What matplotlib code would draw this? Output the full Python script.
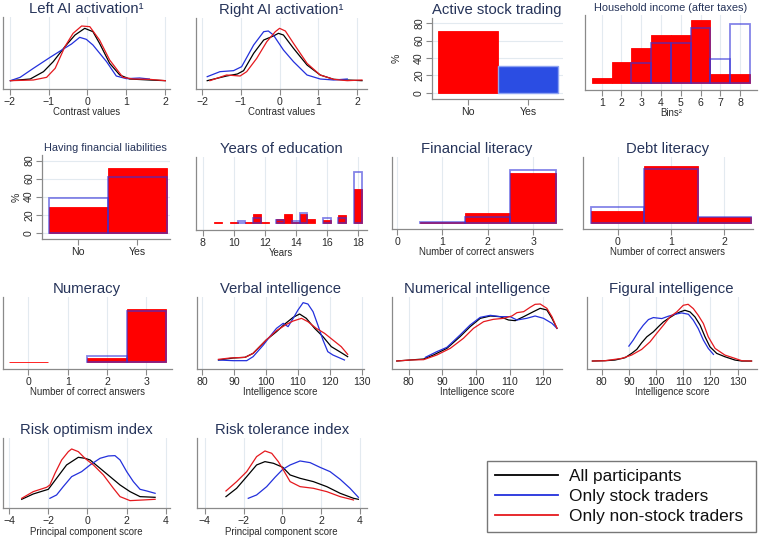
import matplotlib
matplotlib.use('Agg')
import matplotlib.pyplot as plt
from matplotlib.lines import Line2D

plt.rcParams['font.family'] = ['Liberation Sans', 'DejaVu Sans']

# ---------------- data ----------------
# Left AI activation (kernel densities; y in arbitrary density units)
lai_x_all = [-1.98, -1.47, -1.13, -0.88, -0.58, -0.32, -0.07, 0.14, 0.31, 0.57, 0.83, 1.08, 1.59, 2.0]
lai_y_all = [0.25, 0.30, 0.52, 0.82, 1.27, 1.62, 1.82, 1.72, 1.37, 0.77, 0.42, 0.30, 0.27, 0.25]
lai_x_non = [-1.98, -1.39, -1.05, -0.83, -0.58, -0.37, -0.15, 0.06, 0.31, 0.57, 0.91, 1.17, 1.59, 2.0]
lai_y_non = [0.25, 0.27, 0.35, 0.62, 1.27, 1.67, 1.89, 1.87, 1.47, 0.87, 0.35, 0.30, 0.29, 0.25]
lai_x_trd = [-1.98, -1.73, -1.39, -0.96, -0.66, -0.41, -0.2, -0.03, 0.14, 0.49, 0.74, 1.0, 1.34, 1.59]
lai_y_trd = [0.25, 0.35, 0.62, 0.95, 1.17, 1.35, 1.55, 1.49, 1.32, 0.82, 0.39, 0.31, 0.33, 0.30]

# Right AI activation
rai_x_all = [-1.87, -1.37, -1.09, -0.93, -0.67, -0.41, -0.16, -0.03, 0.10, 0.36, 0.71, 1.05, 1.40, 1.75, 2.13]
rai_y_all = [0.25, 0.39, 0.45, 0.55, 1.07, 1.47, 1.59, 1.67, 1.62, 1.22, 0.72, 0.42, 0.29, 0.27, 0.25]
rai_x_non = [-1.80, -1.37, -1.02, -0.85, -0.59, -0.33, -0.11, 0.0, 0.15, 0.36, 0.71, 1.05, 1.40, 1.75, 2.13]
rai_y_non = [0.25, 0.42, 0.39, 0.52, 0.92, 1.42, 1.72, 1.82, 1.74, 1.37, 0.77, 0.42, 0.29, 0.25, 0.27]
rai_x_trd = [-1.87, -1.54, -1.19, -0.98, -0.67, -0.41, -0.29, -0.16, 0.10, 0.36, 0.71, 1.05, 1.40, 1.75]
rai_y_trd = [0.37, 0.52, 0.55, 0.67, 1.32, 1.72, 1.74, 1.62, 1.17, 0.82, 0.42, 0.30, 0.27, 0.30]

# Active stock trading (%)
ast_cats = ['No', 'Yes']
ast_pct = [71, 31]

# Household income (after taxes), % per bin
inc_bins = [1, 2, 3, 4, 5, 6, 7, 8]
inc_non = [1.8, 9.0, 14.6, 20.3, 20.3, 26.6, 3.7, 3.7]
inc_trd = [0, 0, 8.2, 16.7, 16.7, 23.1, 10.2, 25.0]

# Having financial liabilities (%)
fin_cats = ['No', 'Yes']
fin_non = [28, 72]
fin_trd = [38, 62]

# Years of education (%; bins of half a year)
edu_bins = [9, 10, 10.5, 11, 11.5, 12, 13, 13.5, 14, 14.5, 15, 16, 17, 18]
edu_non = [0.8, 0.8, 0, 0.8, 10.6, 0.8, 5.1, 10.6, 0.8, 10.6, 4.2, 3.4, 9.7, 41.5]
edu_trd = [0, 0, 2.4, 0, 5.3, 0, 3.3, 0, 2.4, 12.7, 0, 5.3, 5.3, 63.3]

# Financial literacy (%)
flit_bins = [1, 2, 3]
flit_non = [0.5, 16, 83.5]
flit_trd = [1.5, 10, 88.5]

# Debt literacy (%)
dlit_bins = [0, 1, 2]
dlit_non = [15.7, 76.2, 8.1]
dlit_trd = [21.3, 71.6, 7.1]

# Numeracy (%)
num_bins = [0, 1, 2, 3]
num_non = [0.5, 0, 7.5, 92.0]
num_trd = [0, 0, 11.5, 88.5]

# Verbal intelligence
vi_x_all = [85.2, 89.8, 93.5, 96.0, 100.1, 103.3, 105.9, 108.5, 110.5, 112.6, 115.2, 117.8, 120.4, 123.0, 125.5]
vi_y_all = [0.27, 0.33, 0.35, 0.47, 0.87, 1.12, 1.35, 1.55, 1.65, 1.52, 1.22, 0.97, 0.67, 0.52, 0.37]
vi_x_non = [85.2, 88.8, 93.5, 96.0, 100.1, 103.3, 106.4, 108.5, 111.1, 113.1, 115.7, 118.3, 120.9, 123.5, 125.5]
vi_y_non = [0.29, 0.33, 0.35, 0.47, 0.87, 1.15, 1.34, 1.44, 1.52, 1.42, 1.22, 1.07, 0.87, 0.67, 0.44]
vi_x_trd = [85.2, 89.8, 94.0, 96.0, 99.2, 101.2, 103.3, 105.4, 106.9, 108.5, 110.0, 111.6, 113.1, 114.7, 116.2, 117.8, 119.3, 120.9, 124.5]
vi_y_trd = [0.27, 0.25, 0.25, 0.37, 0.72, 0.97, 1.22, 1.37, 1.27, 1.52, 1.77, 1.99, 1.95, 1.72, 1.32, 0.87, 0.52, 0.42, 0.27]

# Numerical intelligence
ni_x_all = [76.5, 80.5, 84.5, 87.4, 91.4, 95.3, 98.3, 101.3, 104.3, 107.2, 109.7, 111.7, 114.2, 117.1, 119.1, 121.1, 122.6, 124.1]
ni_y_all = [0.24, 0.27, 0.30, 0.42, 0.62, 0.97, 1.27, 1.52, 1.59, 1.57, 1.47, 1.45, 1.57, 1.72, 1.82, 1.77, 1.52, 1.22]
ni_x_non = [76.5, 80.5, 84.5, 88.4, 92.4, 96.3, 99.3, 102.3, 105.2, 108.2, 110.7, 112.2, 114.2, 116.1, 117.6, 119.1, 121.1, 122.6, 124.1]
ni_y_non = [0.24, 0.27, 0.28, 0.42, 0.62, 0.92, 1.22, 1.42, 1.49, 1.52, 1.59, 1.69, 1.72, 1.85, 1.94, 1.95, 1.82, 1.57, 1.22]
ni_x_trd = [85.0, 88.4, 91.4, 95.3, 98.3, 101.3, 104.3, 107.2, 110.2, 112.2, 115.1, 117.6, 120.1, 122.6, 124.1]
ni_y_trd = [0.35, 0.52, 0.65, 1.02, 1.32, 1.55, 1.61, 1.57, 1.57, 1.47, 1.52, 1.59, 1.52, 1.37, 1.22]

# Figural intelligence
fi_x_all = [76.6, 81.2, 84.9, 88.6, 91.0, 92.9, 94.7, 96.6, 99.0, 100.8, 102.7, 104.5, 107.0, 108.8, 110.6, 112.5, 114.3, 116.2, 118.0, 119.8, 122.3, 125.3, 129.0, 131.5, 135.1]
fi_y_all = [0.24, 0.25, 0.27, 0.34, 0.47, 0.59, 0.79, 0.97, 1.12, 1.27, 1.42, 1.52, 1.65, 1.72, 1.77, 1.72, 1.57, 1.32, 0.97, 0.67, 0.47, 0.37, 0.27, 0.24, 0.24]
fi_x_non = [76.6, 81.2, 87.4, 91.0, 94.7, 97.8, 100.2, 102.7, 105.1, 107.6, 110.0, 111.8, 113.7, 115.5, 117.4, 119.2, 121.7, 125.3, 129.0, 131.5, 135.1]
fi_y_non = [0.24, 0.25, 0.32, 0.42, 0.59, 0.82, 1.07, 1.32, 1.57, 1.72, 1.92, 1.95, 1.82, 1.62, 1.37, 0.97, 0.62, 0.42, 0.32, 0.25, 0.24]
fi_x_trd = [90.0, 91.6, 93.5, 95.3, 97.2, 99.0, 102.1, 104.5, 107.0, 109.4, 111.9, 113.7, 115.5, 117.4, 119.2, 121.1]
fi_y_trd = [0.69, 0.87, 1.12, 1.32, 1.49, 1.55, 1.52, 1.59, 1.65, 1.69, 1.65, 1.47, 1.22, 0.87, 0.62, 0.44]

# Risk optimism index
ro_x_all = [-3.35, -2.76, -1.99, -1.57, -1.06, -0.46, -0.12, 0.14, 0.65, 1.16, 1.67, 2.18, 2.69, 3.46]
ro_y_all = [0.27, 0.43, 0.57, 0.90, 1.30, 1.53, 1.50, 1.45, 1.20, 0.95, 0.70, 0.50, 0.35, 0.33]
ro_x_non = [-3.35, -2.76, -2.08, -1.91, -1.65, -1.31, -0.97, -0.80, -0.46, -0.12, 0.31, 0.82, 1.33, 1.67, 2.18, 2.86, 3.46]
ro_y_non = [0.30, 0.50, 0.63, 0.70, 1.05, 1.45, 1.70, 1.78, 1.70, 1.50, 1.30, 1.00, 0.60, 0.35, 0.23, 0.25, 0.27]
ro_x_trd = [-1.91, -1.57, -1.23, -0.80, -0.29, 0.14, 0.65, 1.07, 1.41, 1.67, 2.01, 2.35, 2.69, 3.03, 3.46]
ro_y_trd = [0.30, 0.40, 0.65, 0.95, 1.10, 1.30, 1.50, 1.57, 1.58, 1.45, 1.10, 0.80, 0.57, 0.52, 0.45]

# Risk tolerance index
rt_x_all = [-2.91, -2.36, -1.84, -1.33, -0.90, -0.46, 0.02, 0.40, 0.91, 1.60, 2.29, 2.98, 3.67, 3.92]
rt_y_all = [0.35, 0.60, 0.95, 1.30, 1.40, 1.35, 1.23, 1.00, 0.90, 0.80, 0.65, 0.45, 0.30, 0.27]
rt_x_non = [-2.91, -2.36, -1.84, -1.33, -0.90, -0.55, -0.21, 0.05, 0.40, 0.91, 1.60, 2.29, 2.98, 3.67]
rt_y_non = [0.52, 0.80, 1.10, 1.55, 1.72, 1.65, 1.40, 1.15, 0.80, 0.65, 0.60, 0.50, 0.35, 0.25]
rt_x_trd = [-1.76, -1.33, -0.81, -0.38, 0.02, 0.40, 0.91, 1.43, 1.94, 2.46, 2.98, 3.49, 3.92]
rt_y_trd = [0.30, 0.40, 0.65, 0.93, 1.17, 1.30, 1.42, 1.37, 1.23, 1.10, 0.87, 0.60, 0.33]

legend_labels = ['All participants', 'Only stock traders', 'Only non-stock traders']

# ---------------- style ----------------
W, H = 760, 538
fig = plt.figure(figsize=(7.6, 5.38), dpi=100)

TITLE = '#26345a'
SPINE = '#8a8a8a'
GRID = '#e3eaf0'
TXT = '#2a2a2a'
BLK, BLU, RED = '#000000', '#2330dc', '#e5191e'
BAR_RED = '#ff0000'
BAR_BLUE_EDGE = (0.2, 0.2, 0.85, 0.6)


def add_ax(l, t, r, b):
    return fig.add_axes([l / W, 1 - b / H, (r - l) / W, (b - t) / H])


def style(ax, title, xlabel, xlim, ylim, xticks, xticklabels=None, small=False,
          yticks=None, ylabel_x=None):
    for s in ['top', 'right']:
        ax.spines[s].set_visible(False)
    for s in ['left', 'bottom']:
        ax.spines[s].set_color(SPINE)
        ax.spines[s].set_linewidth(0.9)
    ax.set_xlim(*xlim)
    ax.set_ylim(*ylim)
    ax.set_xticks(xticks)
    if xticklabels is not None:
        ax.set_xticklabels(xticklabels)
    ax.tick_params(axis='x', length=4, width=0.8, color=SPINE, labelsize=7.6,
                   pad=1.5, labelcolor=TXT)
    if yticks is None:
        ax.set_yticks([])
        ax.xaxis.grid(True, color=GRID, lw=0.8)
    else:
        ax.set_yticks(yticks)
        ax.tick_params(axis='y', length=4, width=0.8, color=SPINE, labelsize=7.6,
                       pad=1.5, labelcolor=TXT)
        for lab in ax.get_yticklabels():
            lab.set_rotation(90)
            lab.set_va('center')
        ax.yaxis.grid(True, color=GRID, lw=0.8)
        ax.set_ylabel('%', fontsize=7.6, color=TXT, rotation=90)
        ax.yaxis.set_label_coords(ylabel_x, 0.5)
    ax.set_axisbelow(True)
    if small:
        ax.set_title(title, fontsize=7.9, color=TITLE, pad=3)
    else:
        ax.set_title(title, fontsize=10.7, color=TITLE, pad=3)
    if xlabel:
        ax.set_xlabel(xlabel, fontsize=6.9, color=TXT, labelpad=0.5)


def dens(ax, xa, ya, xt, yt, xn, yn):
    ax.plot(xa, ya, color=BLK, lw=0.9)
    ax.plot(xt, yt, color=BLU, lw=0.9)
    ax.plot(xn, yn, color=RED, lw=0.9)


def hist(ax, bins, non, trd, width):
    bn = [b for b, v in zip(bins, non) if v > 0]
    vn = [v for v in non if v > 0]
    ax.bar(bn, vn, width=width, color=BAR_RED, edgecolor=BAR_RED, lw=0.6, zorder=2)
    bt = [b for b, v in zip(bins, trd) if v > 0]
    vt = [v for v in trd if v > 0]
    ax.bar(bt, vt, width=width, fill=False, edgecolor=BAR_BLUE_EDGE, lw=1.3, zorder=3)


# Row 1
ax = add_ax(3, 17, 170, 89)
dens(ax, lai_x_all, lai_y_all, lai_x_trd, lai_y_trd, lai_x_non, lai_y_non)
style(ax, 'Left AI activation\u00b9', 'Contrast values', (-2.17, 2.12), (0, 2.16),
      [-2, -1, 0, 1, 2])

ax = add_ax(196, 18, 367, 89)
dens(ax, rai_x_all, rai_y_all, rai_x_trd, rai_y_trd, rai_x_non, rai_y_non)
style(ax, 'Right AI activation\u00b9', 'Contrast values', (-2.16, 2.26), (0, 2.13),
      [-2, -1, 0, 1, 2])

ax = add_ax(431.7, 18.3, 562.7, 99)
ax.bar([0], ast_pct[:1], width=1, color=BAR_RED, edgecolor=BAR_RED, lw=0.6, zorder=2)
ax.bar([1], ast_pct[1:], width=1, color='#2b4de3', edgecolor='#8ea3f2', lw=1.0, zorder=2)
style(ax, 'Active stock trading', None, (-0.6, 1.58), (-7.3, 85.8), [0, 1], ast_cats,
      yticks=[0, 20, 40, 60, 80], ylabel_x=-0.227)

ax = add_ax(585, 15, 756.7, 90)
hist(ax, inc_bins, inc_non, inc_trd, 1.0)
style(ax, 'Household income (after taxes)', 'Bins\u00b2', (0.155, 8.84), (-3.1, 28.8),
      inc_bins, small=True)

# Row 2
ax = add_ax(41.7, 155, 170, 239)
hist(ax, [0, 1], fin_non, fin_trd, 1.0)
style(ax, 'Having financial liabilities', None, (-0.62, 1.55), (-7, 86.3), [0, 1], fin_cats,
      small=True, yticks=[0, 20, 40, 60, 80], ylabel_x=-0.153)

ax = add_ax(196, 157, 366.7, 230)
hist(ax, edu_bins, edu_non, edu_trd, 0.5)
style(ax, 'Years of education', 'Years', (7.57, 18.58), (-9.1, 82), [8, 10, 12, 14, 16, 18])

ax = add_ax(391.7, 157, 561.7, 229)
hist(ax, flit_bins, flit_non, flit_trd, 1.0)
style(ax, 'Financial literacy', 'Number of correct answers', (-0.12, 3.63), (-10.5, 109.5),
      [0, 1, 2, 3])

ax = add_ax(583.3, 157, 752.7, 229)
hist(ax, dlit_bins, dlit_non, dlit_trd, 1.0)
style(ax, 'Debt literacy', 'Number of correct answers', (-0.645, 2.53), (-8.4, 87.6),
      [0, 1, 2])

# Row 3
ax = add_ax(2.7, 297, 171.7, 369)
hist(ax, num_bins, num_non, num_trd, 1.0)
style(ax, 'Numeracy', 'Number of correct answers', (-0.65, 3.64), (-11.6, 113),
      [0, 1, 2, 3])

ax = add_ax(196.7, 297, 364, 369)
dens(ax, vi_x_all, vi_y_all, vi_x_trd, vi_y_trd, vi_x_non, vi_y_non)
style(ax, 'Verbal intelligence', 'Intelligence score', (78.4, 130.6), (0, 2.16),
      [80, 90, 100, 110, 120, 130])

ax = add_ax(391.7, 297, 561.7, 369)
dens(ax, ni_x_all, ni_y_all, ni_x_trd, ni_y_trd, ni_x_non, ni_y_non)
style(ax, 'Numerical intelligence', 'Intelligence score', (75.0, 125.5), (0, 2.16),
      [80, 90, 100, 110, 120])

ax = add_ax(586.7, 297, 756.7, 369)
dens(ax, fi_x_all, fi_y_all, fi_x_trd, fi_y_trd, fi_x_non, fi_y_non)
style(ax, 'Figural intelligence', 'Intelligence score', (74.5, 137.0), (0, 2.17),
      [80, 90, 100, 110, 120, 130])

# Row 4
ax = add_ax(2.7, 438.3, 170, 508.3)
dens(ax, ro_x_all, ro_y_all, ro_x_trd, ro_y_trd, ro_x_non, ro_y_non)
style(ax, 'Risk optimism index', 'Principal component score', (-4.32, 4.22), (0, 2.10),
      [-4, -2, 0, 2, 4])

ax = add_ax(196.7, 438.3, 366.7, 508.3)
dens(ax, rt_x_all, rt_y_all, rt_x_trd, rt_y_trd, rt_x_non, rt_y_non)
style(ax, 'Risk tolerance index', 'Principal component score', (-4.42, 4.35), (0, 2.10),
      [-4, -2, 0, 2, 4])

# Legend
handles = [Line2D([], [], color=c, lw=1.3) for c in (BLK, BLU, RED)]
leg = fig.legend(handles, legend_labels, loc='upper left', mode='expand',
                 bbox_to_anchor=(487 / W, 1 - 533 / H, 269 / W, 72 / H),
                 bbox_transform=fig.transFigure,
                 fontsize=12.4, handlelength=3.7, handletextpad=0.6, labelspacing=0.3,
                 borderpad=0.45, borderaxespad=0, fancybox=False, frameon=True)
leg.get_frame().set_edgecolor('#555555')
leg.get_frame().set_linewidth(1.0)
for t in leg.get_texts():
    t.set_color('#111111')

fig.savefig('out.png', dpi=100)
